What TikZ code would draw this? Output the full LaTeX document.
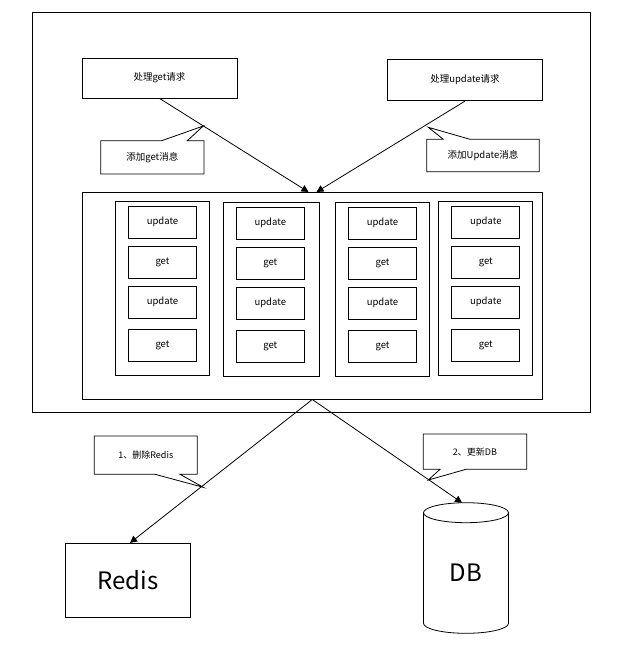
\documentclass[tikz,border=0pt]{standalone}
\usepackage{fontspec}
\setmainfont{Noto Sans CJK SC}
\usetikzlibrary{arrows.meta}
\tikzset{
  lw/.style={line width=0.8pt},
  bx/.style={draw, lw, inner sep=0pt, font=\fontsize{9.5}{11}\selectfont},
  itm/.style={bx, minimum width=68pt, minimum height=32pt},
  colbox/.style={draw, lw, inner sep=0pt},
  txt/.style={inner sep=0pt, font=\fontsize{9.5}{11}\selectfont},
  small/.style={inner sep=0pt, font=\fontsize{9}{11}\selectfont},
  big/.style={inner sep=0pt, font=\fontsize{24}{28}\selectfont},
  conn/.style={lw, -{Triangle[length=7pt,width=7pt]}},
  callout/.style={draw, lw, fill=white, line join=miter}
}
\begin{document}
\begin{tikzpicture}[x=1pt,y=-1pt]
\useasboundingbox (0,0) rectangle (629,664);
% outer frame
\node[colbox, minimum width=558pt, minimum height=400.7pt] (outer) at (311,212.3) {};
% request boxes
\node[bx, minimum width=155pt, minimum height=40pt] (g) at (159.5,78) {处理get请求};
\node[bx, minimum width=154.6pt, minimum height=41.4pt] (u) at (465,80) {处理update请求};
% queue box
\node[colbox, minimum width=460pt, minimum height=207pt] (q) at (312.3,295.6) {};
% columns
\node[colbox, minimum width=93.6pt, minimum height=173.3pt] (col1) at (162.5,288.3) {};
\node[colbox, minimum width=96pt, minimum height=174pt] (col2) at (271.3,289.7) {};
\node[colbox, minimum width=94.4pt, minimum height=174pt] (col3) at (382.5,289.3) {};
\node[colbox, minimum width=94pt, minimum height=174.3pt] (col4) at (485.3,288.2) {};
% items
\node[itm] (a1) at (162.5,222.2) {update};
\node[itm] (a2) at (162.5,262.2) {get};
\node[itm] (a3) at (162.5,302.2) {update};
\node[itm] (a4) at (162.5,345.5) {get};
\node[itm] (b1) at (270.3,223) {update};
\node[itm] (b2) at (270.3,263) {get};
\node[itm] (b3) at (270.3,303) {update};
\node[itm] (b4) at (270.3,346.7) {get};
\node[itm] (d1) at (382.5,223.2) {update};
\node[itm] (d2) at (382.5,263.2) {get};
\node[itm] (d3) at (382.5,303.3) {update};
\node[itm] (d4) at (382.5,346.3) {get};
\node[itm] (e1) at (485.8,222.2) {update};
\node[itm] (e2) at (485.8,262.2) {get};
\node[itm] (e3) at (485.8,302.2) {update};
\node[itm] (e4) at (485.8,345.3) {get};
% connectors top
\coordinate (qa) at (308.5,192);
\coordinate (qb) at (316.5,192);
\draw[conn] (g.south) -- (qa);
\draw[conn] (u.south) -- (qb);
% Redis and DB
\node[bx, big, minimum width=124.3pt, minimum height=74pt] (r) at (128,580.3) {Redis};
\draw[lw] (423.5,512.7) -- (423.5,623.3) arc[start angle=180, end angle=0, x radius=42.5, y radius=10] -- (508.5,512.7);
\draw[lw] (466,512.7) ellipse[x radius=42.5, y radius=10];
\node[big] (db) at (466,573) {DB};
\coordinate (dbtop) at (462,502.7);
\draw[conn] (q.south) -- ([xshift=2pt]r.north);
\draw[conn] (q.south) -- (dbtop);
% callouts
\draw[callout] (100.7,140.7) -- (161.7,140.7) -- (203.3,126) -- (187.3,140.7) -- (204,140.7) -- (204,174) -- (100.7,174) -- cycle;
\node[txt] (c1) at (152.3,157.3) {添加get消息};
\draw[callout] (426.7,139.3) -- (443.3,139.3) -- (428.3,127.3) -- (470,139.3) -- (539.3,139.3) -- (539.3,171.7) -- (426.7,171.7) -- cycle;
\node[txt] (c2) at (483,155.5) {添加Update消息};
\draw[callout] (94.3,436) -- (197.3,436) -- (197.3,474.3) -- (180,474.3) -- (203.3,487.3) -- (155,474.3) -- (94.3,474.3) -- cycle;
\node[small] (c3) at (145.8,455) {1、删除Redis};
\draw[callout] (423.3,434) -- (526.7,434) -- (526.7,469.3) -- (466,469.3) -- (428.3,480) -- (440,469.3) -- (423.3,469.3) -- cycle;
\node[small] (c4) at (475,451.7) {2、更新DB};
\end{tikzpicture}
\end{document}
